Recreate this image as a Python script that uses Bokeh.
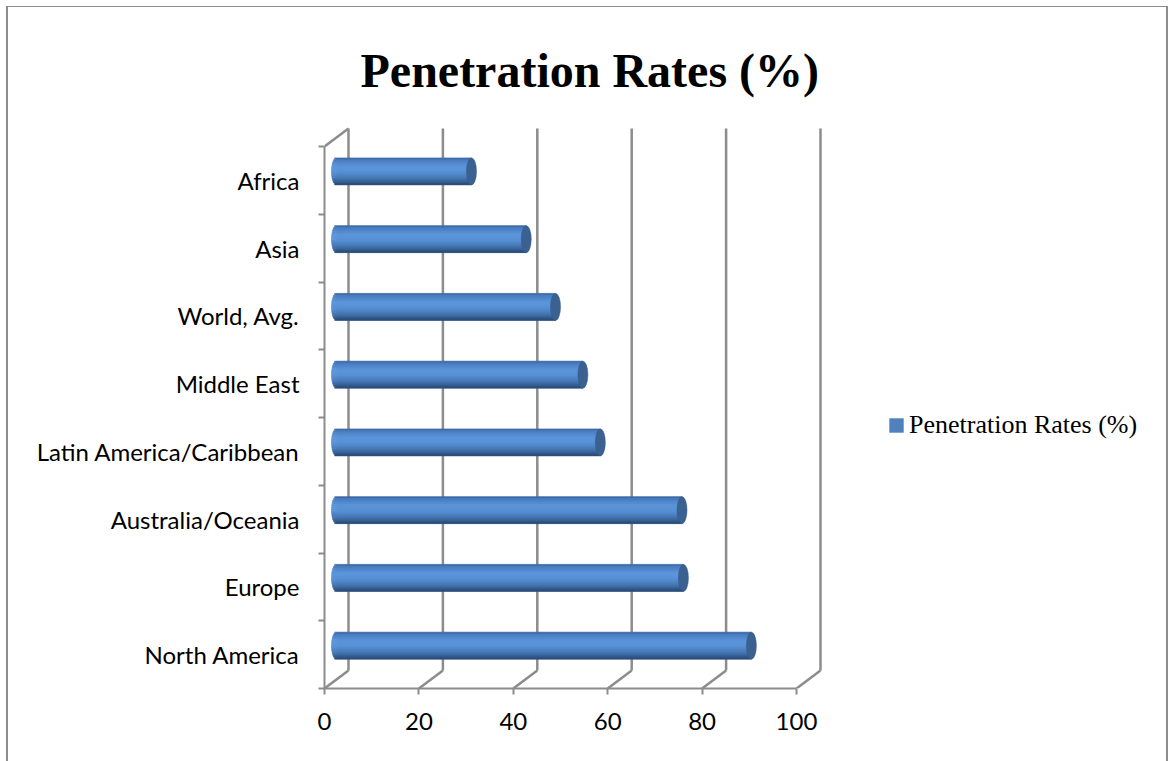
import numpy as np
from bokeh.plotting import figure
from bokeh.models import (Range1d, FixedTicker, ColumnDataSource, Legend,
                          LegendItem, InlineStyleSheet)
from bokeh.embed import file_html
from bokeh.resources import INLINE

# ---- data (bottom to top) ----
categories = ["North America", "Europe", "Australia/Oceania",
              "Latin America/Caribbean", "Middle East", "World, Avg.",
              "Asia", "Africa"]
values = [87.9, 73.5, 73.2, 55.9, 52.2, 46.4, 40.2, 28.6]
x_ticks = [0, 20, 40, 60, 80, 100]
title_text = "Penetration Rates (%)"
series_name = "Penetration Rates (%)"

# ---- geometry / style ----
W, H = 1170, 761
FRAME_L, FRAME_R, FRAME_T, FRAME_B = 324, 1160, 118, 688
PX_X = 4.72          # px per percent
PX_Y = 67.75         # px per category
DX = 24 / PX_X       # depth offset (x units)
DY = 18 / PX_Y       # depth offset (y units)
BAR_H = 27 / PX_Y
CAP_W = 10 / PX_X
GRID = "#8c8c8c"
n = len(categories)
XMAX = x_ticks[-1]

x_end = (FRAME_R - FRAME_L) / PX_X
y_end = (FRAME_B - FRAME_T) / PX_Y

# chart-area border (left, top, right edges) drawn over the canvas
border_css = InlineStyleSheet(css="""
:host::after {
  content: "";
  position: absolute;
  left: 6px; top: 6px;
  width: 1162px; height: 755px;
  box-sizing: border-box;
  border-left: 2px solid #8c8c8c;
  border-top: 1.5px solid #8c8c8c;
  border-right: 2px solid #8c8c8c;
  pointer-events: none;
}
""")

p = figure(width=W, height=H, x_range=Range1d(0, x_end), y_range=Range1d(0, y_end),
           output_backend="svg", toolbar_location=None,
           min_border_left=FRAME_L, min_border_right=W - FRAME_R,
           min_border_top=FRAME_T, min_border_bottom=H - FRAME_B,
           stylesheets=[border_css])
p.xgrid.visible = False
p.ygrid.visible = False
p.outline_line_color = None
p.background_fill_color = "white"
p.border_fill_color = "white"

# title
p.title.text = title_text
p.title.text_font = "Liberation Serif"
p.title.text_font_style = "bold"
p.title.text_font_size = "48px"
p.title.text_color = "black"
p.title.align = "left"
p.title.offset = 36
p.title.standoff = 43

# ---- back wall / floor (3D frame) ----
p.segment(x0=[t + DX for t in x_ticks], y0=DY, x1=[t + DX for t in x_ticks], y1=n + DY,
          line_color=GRID, line_width=2.5)
p.segment(x0=x_ticks, y0=0, x1=[t + DX for t in x_ticks], y1=DY,
          line_color=GRID, line_width=2.5)
p.segment(x0=[0], y0=[n], x1=[DX], y1=[n + DY], line_color=GRID, line_width=2.5)

# ---- cylinders ----
yc = [i + 0.5 + DY / 2 for i in range(n)]
left0 = [DX / 2] * n
right = [v + DX / 2 for v in values]
src = ColumnDataSource(dict(y=yc, left=left0, right=right, cat=categories, v=values))
base = p.hbar(y="y", left="left", right="right", height=BAR_H, source=src,
              fill_color="#4f81bd", line_color=None)

stripe_colors = ["#3f6ca8", "#4a7dc0", "#5086ca", "#558dd2", "#5a93d8", "#5c95db",
                 "#5b93d8", "#5890d4", "#538acc", "#4d82c2", "#4679b6", "#3f6ea6",
                 "#365f92", "#2c4f7b"]
NS = len(stripe_colors)
sh = BAR_H / NS
for k, col in enumerate(stripe_colors):
    t = ((k + 0.5) / NS) * 2 - 1
    off = (CAP_W / 2) * np.sqrt(max(0.0, 1 - t * t))
    ys = [c + BAR_H / 2 - (k + 0.5) * sh for c in yc]
    p.hbar(y=ys, left=[DX / 2 - off] * n, right=right, height=sh,
           fill_color=col, line_color=col, line_width=0.6)

p.ellipse(x=right, y=yc, width=CAP_W, height=BAR_H,
          fill_color="#3b6191", line_color="#35598a", line_width=0.5)

# ---- axes ----
ya = p.yaxis[0]
ya.ticker = FixedTicker(ticks=[i + 0.5 for i in range(n)], minor_ticks=list(range(n + 1)))
ya.major_label_overrides = {i + 0.5: c for i, c in enumerate(categories)}
ya.bounds = (0, n)
ya.axis_line_color = GRID
ya.axis_line_width = 2
ya.major_tick_line_color = None
ya.major_tick_out = 0
ya.major_tick_in = 0
ya.minor_tick_line_color = GRID
ya.minor_tick_line_width = 2
ya.minor_tick_out = 6
ya.minor_tick_in = 0
ya.major_label_standoff = 19
ya.major_label_text_font = "Lato"
ya.major_label_text_font_size = "24px"
ya.major_label_text_color = "black"

xa = p.xaxis[0]
xa.ticker = FixedTicker(ticks=x_ticks, minor_ticks=[])
xa.bounds = (0, XMAX)
xa.axis_line_color = GRID
xa.axis_line_width = 2
xa.major_tick_line_color = GRID
xa.major_tick_line_width = 2
xa.major_tick_out = 6
xa.major_tick_in = 0
xa.minor_tick_line_color = None
xa.major_label_standoff = 18
xa.major_label_text_font = "Lato"
xa.major_label_text_font_size = "24px"
xa.major_label_text_color = "black"

# ---- legend ----
legend = Legend(items=[LegendItem(label=series_name, renderers=[base])],
                location=(887 - FRAME_L, FRAME_B - 440),
                padding=0, margin=0, spacing=0,
                glyph_width=18, glyph_height=18, label_standoff=4,
                label_height=30,
                label_text_font="Liberation Serif", label_text_font_size="26px",
                label_text_color="black",
                border_line_color=None, background_fill_alpha=0)
p.add_layout(legend)

open("out.html", "w").write(file_html(p, INLINE))
